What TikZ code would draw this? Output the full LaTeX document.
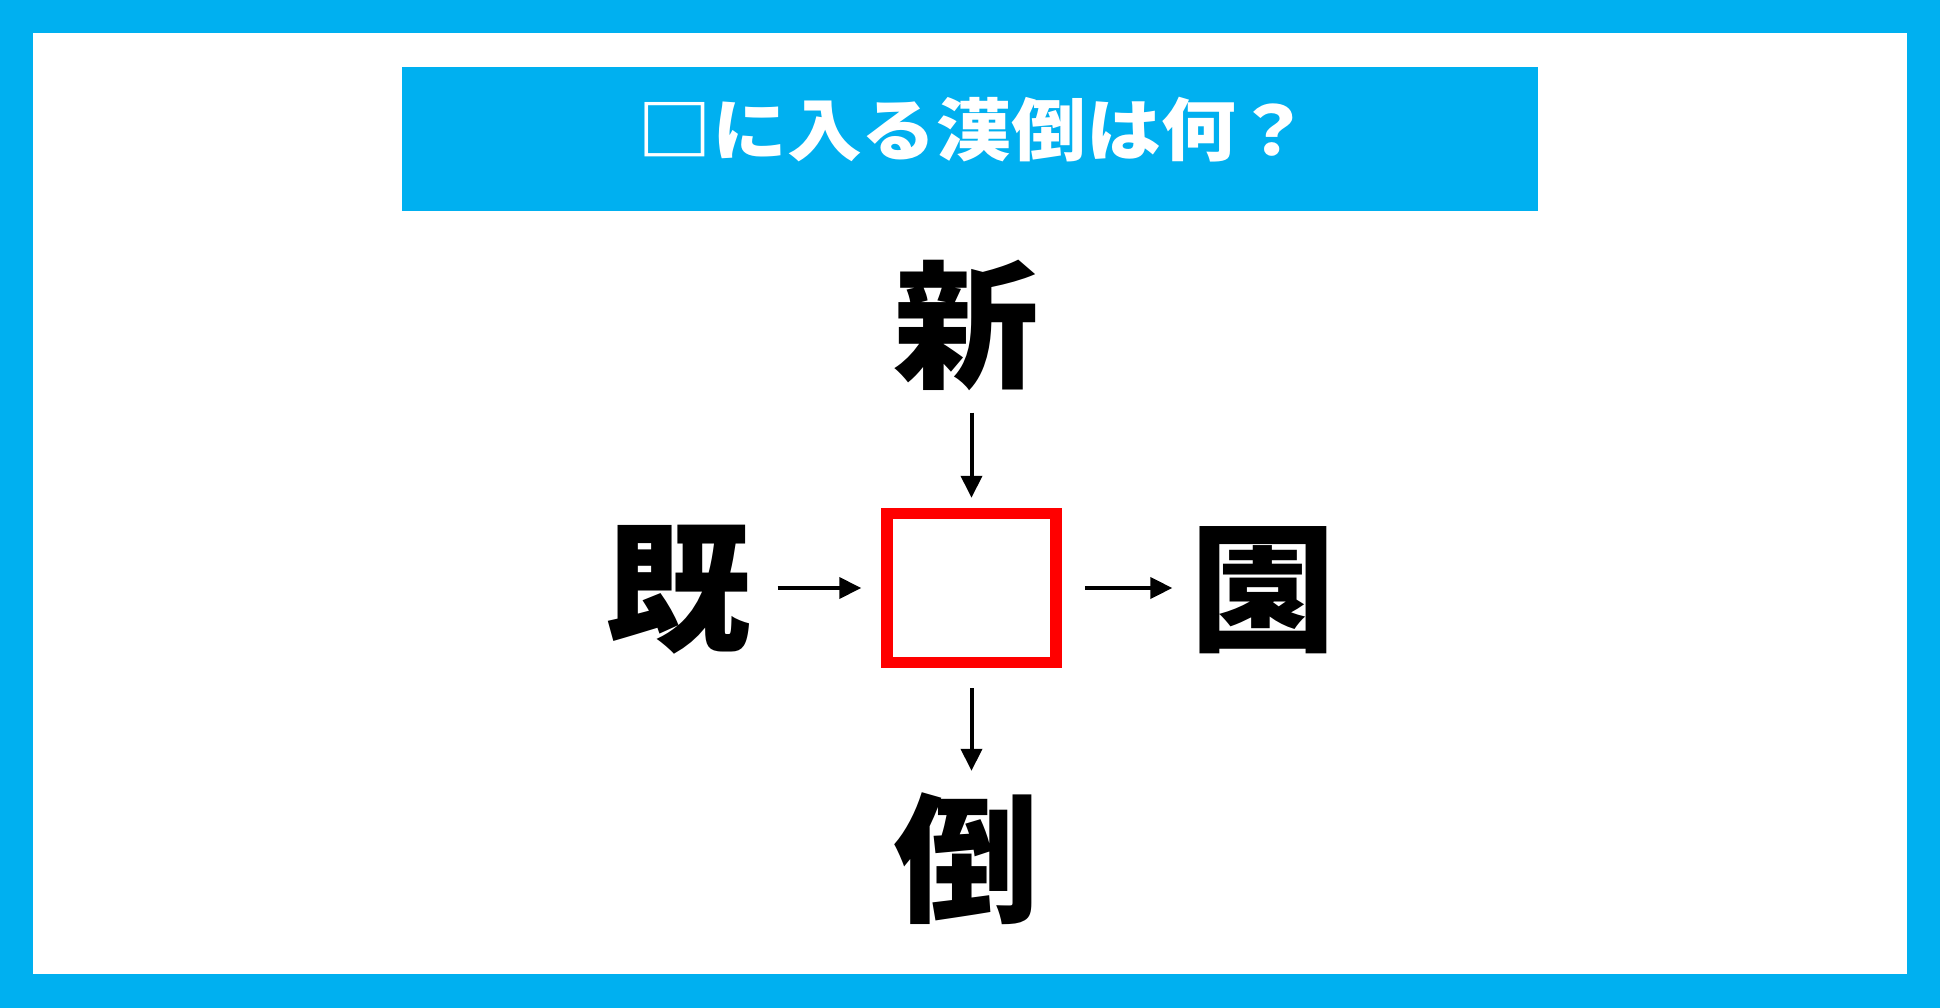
\documentclass[tikz,border=0pt]{standalone}
\usepackage{fontspec}
\newfontfamily\jpfont[FakeStretch=1.05]{Noto Sans CJK JP}
\newfontfamily\jptitle[FakeStretch=1.1]{Noto Sans CJK JP}
\usetikzlibrary{arrows.meta}
\definecolor{skyblue}{HTML}{00B0F0}

\begin{document}
\begin{tikzpicture}[x=1pt, y=-1pt,
		kanji/.style = {inner sep=0pt, font=\jpfont\bfseries\fontsize{139}{139}\selectfont},
		blank/.style = {draw=red, line width=11.5pt, minimum width=169pt, minimum height=149pt},
		arr/.style = {-{Triangle[length=22pt,width=21pt]}, line width=4pt}]
			\useasboundingbox (0,0) rectangle (1940,1008);
			\fill[skyblue] (0,0) rectangle (1940,1008);
			\fill[white] (33,33) rectangle (1907,974);
			\fill[skyblue] (402,67) rectangle (1538,211);
			\node[inner sep=0pt, text=white, font=\jptitle\bfseries\fontsize{68}{68}\selectfont] (title) at (974,130) {□に入る漢倒は何？};
			\node[blank] (box) at (971.5,588) {};
			\node[kanji] (shin) [above of=box, node distance=263pt, xshift=-5pt] {新};
			\node[kanji] (kisei) [left of=box, node distance=293pt, yshift=-2pt] {既};
			\node[kanji] (en) [right of=box, node distance=292pt, yshift=-2pt] {園};
			\node[kanji] (tou) [below of=box, node distance=271pt, xshift=-5pt] {倒};
			\draw[arr, shorten <=22pt, shorten >=10pt] (shin.south -| box.north) -- (box.north);
			\draw[arr, shorten <=26pt, shorten >=20pt] (kisei.east |- box.west) -- (box.west);
			\draw[arr, shorten <=23pt, shorten >=18pt] (box.east) -- (en.west |- box.east);
			\draw[arr, shorten <=20pt, shorten >=22pt] (box.south) -- (tou.north -| box.south);
		\end{tikzpicture}
\end{document}
